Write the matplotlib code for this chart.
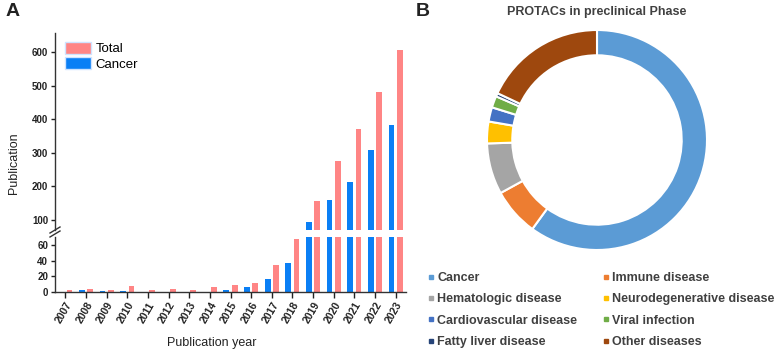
import matplotlib
matplotlib.use("Agg")
import matplotlib.pyplot as plt
from matplotlib.lines import Line2D
import numpy as np

plt.rcParams['font.family'] = ['Liberation Sans', 'DejaVu Sans']

# ---------------- data ----------------
years = [2007, 2008, 2009, 2010, 2011, 2012, 2013, 2014, 2015, 2016,
         2017, 2018, 2019, 2020, 2021, 2022, 2023]
total = [2, 4, 2, 8, 3, 4, 2, 7, 9, 12, 35, 68, 157, 277, 370, 480, 605]
cancer = [0, 2, 1, 1, 0, 0, 0, 0, 3, 6, 16, 37, 93, 158, 213, 307, 383]

upper_ticks = [100, 200, 300, 400, 500, 600]
lower_ticks = [0, 20, 40, 60]

pie_labels = ["Cancer", "Immune disease", "Hematologic disease",
              "Neurodegenerative disease", "Cardiovascular disease",
              "Viral infection", "Fatty liver disease", "Other diseases"]
pie_values = [60.0, 7.0, 7.5, 3.2, 2.1, 1.7, 0.5, 18.0]
pie_colors = ["#5B9BD5", "#ED7D31", "#A5A5A5", "#FFC000", "#4472C4",
              "#70AD47", "#264478", "#9E480E"]

# ---------------- figure ----------------
W, H = 777, 352
fig = plt.figure(figsize=(W / 100, H / 100), dpi=100)

def fx(px):
    return px / W

def fy(py):
    return 1 - py / H

pink = "#FF8585"
blue = "#0A7FF5"
x = np.arange(len(years))
bw = 0.28
off = 0.2

left, right = 55, 406
ax_up = fig.add_axes([fx(left), fy(230), fx(right) - fx(left), fy(33) - fy(230)])
ax_lo = fig.add_axes([fx(left), fy(292), fx(right) - fx(left), fy(237) - fy(292)])

for ax in (ax_up, ax_lo):
    ax.bar(x - off, cancer, width=bw, color=blue, label="Cancer", zorder=2)
    ax.bar(x + off, total, width=bw, color=pink, label="Total", zorder=2)
    ax.set_xlim(-0.5, len(years) - 0.5)
    ax.spines["right"].set_visible(False)
    for s in ("left", "bottom", "top"):
        ax.spines[s].set_linewidth(1.0)
        ax.spines[s].set_color("#333333")
    ax.tick_params(axis="y", direction="out", length=3, width=1, labelsize=7,
                   pad=2, colors="#222222")

ax_up.set_ylim(70, 657)
ax_up.set_yticks(upper_ticks)
ax_up.spines["bottom"].set_visible(False)
ax_up.spines["top"].set_visible(False)
ax_up.set_xticks([])
for t in ax_up.get_yticklabels():
    t.set_fontweight("bold")

ax_lo.set_ylim(0, 70)
ax_lo.set_yticks(lower_ticks)
ax_lo.spines["top"].set_visible(False)
ax_lo.set_xticks(x)
ax_lo.set_xticklabels([str(y) for y in years], rotation=60, ha="right",
                      va="top", rotation_mode="anchor", fontsize=7.5,
                      fontweight="bold")
ax_lo.tick_params(axis="x", direction="out", length=4, width=1, pad=2,
                  colors="#222222")
for t in ax_lo.get_yticklabels():
    t.set_fontweight("bold")

# axis break marks
for dy in (0, 4):
    fig.add_artist(Line2D([fx(50), fx(60)], [fy(235 - dy + 2), fy(229 - dy + 2)],
                          color="#333333", lw=1.0, transform=fig.transFigure))

# legend (Total first)
h, l = ax_up.get_legend_handles_labels()
leg = ax_up.legend([h[1], h[0]], [l[1], l[0]], loc="upper left",
                   bbox_to_anchor=(fx(65), fy(42)), bbox_transform=fig.transFigure,
                   frameon=False, fontsize=9.5, handlelength=2.0,
                   handleheight=1.0, handletextpad=0.3, labelspacing=0.15,
                   borderpad=0, borderaxespad=0)
for p in leg.get_patches():
    p.set_edgecolor("#cfe3ff")

fig.text(fx(14), fy(163), "Publication", rotation=90, ha="center",
         va="center", fontsize=9, color="#222222")
fig.text(fx(212), fy(343), "Publication year", ha="center", va="center",
         fontsize=9, color="#222222")

fig.text(fx(13), fy(12), "A", ha="center", va="center", fontsize=14,
         fontweight="bold", color="#222222")
fig.text(fx(423), fy(12), "B", ha="center", va="center", fontsize=14,
         fontweight="bold", color="#222222")

# ---------------- donut ----------------
R = 110
cx, cy = 597, 140
ax_p = fig.add_axes([fx(cx - R), fy(cy + R), 2 * R / W, 2 * R / H])
wedges, _ = ax_p.pie(pie_values, colors=pie_colors, startangle=90,
                     counterclock=False, radius=1.0,
                     wedgeprops=dict(width=0.23, edgecolor="white", linewidth=1.5))
ax_p.set_aspect("equal")
ax_p.set_xlim(-1, 1)
ax_p.set_ylim(-1, 1)
ax_p.axis("off")

fig.text(fx(597), fy(12), "PROTACs in preclinical Phase", ha="center",
         va="center", fontsize=9, fontweight="bold", color="#404040")

handles = [Line2D([], [], marker="s", linestyle="none", markersize=3,
                  markerfacecolor=c, markeredgecolor=c) for c in pie_colors]
order = list(range(0, len(pie_labels), 2)) + list(range(1, len(pie_labels), 2))
pleg = fig.legend([handles[i] for i in order], [pie_labels[i] for i in order],
                  ncol=2, loc="upper left", bbox_to_anchor=(fx(428), fy(272)),
                  frameon=False, handlelength=0.5, handletextpad=0.25,
                  columnspacing=2.0, labelspacing=0.75, borderpad=0,
                  borderaxespad=0, prop=dict(size=9, weight="bold"))
for t in pleg.get_texts():
    t.set_color("#404040")

fig.savefig("out.png", dpi=100)
